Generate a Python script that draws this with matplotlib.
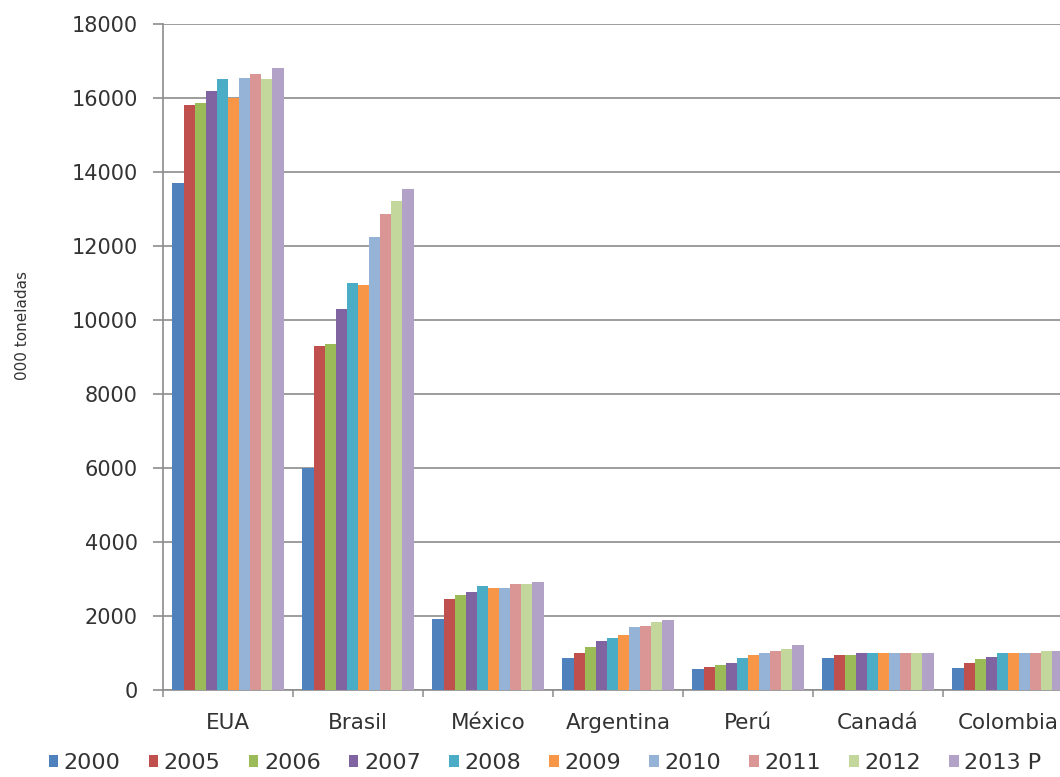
import matplotlib
matplotlib.use("Agg")
import matplotlib.pyplot as plt
import numpy as np

paises = ["EUA", "Brasil", "México", "Argentina", "Perú", "Canadá", "Colombia"]
anos = ["2000", "2005", "2006", "2007", "2008", "2009", "2010", "2011", "2012", "2013 P"]

# 000 toneladas, by year (rows) for each country (columns)
v2000 = [13700, 6000, 1900, 850, 550, 850, 570]
v2005 = [15800, 9300, 2450, 1000, 620, 930, 730]
v2006 = [15850, 9350, 2550, 1150, 660, 920, 830]
v2007 = [16200, 10300, 2650, 1300, 730, 980, 890]
v2008 = [16500, 11000, 2800, 1400, 840, 990, 980]
v2009 = [16000, 10950, 2750, 1470, 930, 990, 980]
v2010 = [16550, 12250, 2750, 1680, 980, 990, 980]
v2011 = [16650, 12850, 2840, 1730, 1050, 990, 980]
v2012 = [16500, 13200, 2850, 1830, 1100, 990, 1040]
v2013 = [16800, 13550, 2900, 1880, 1200, 990, 1040]
series = [v2000, v2005, v2006, v2007, v2008, v2009, v2010, v2011, v2012, v2013]

cores = ["#4F81BD", "#C0504D", "#9BBB59", "#8064A2", "#4BACC6",
         "#F79646", "#95B3D7", "#D99694", "#C3D69B", "#B3A2C7"]
texto = "#333333"

fig = plt.figure(figsize=(10.6, 7.77), dpi=100)
ax = fig.add_axes([163 / 1060, 1 - 689.5 / 777, (1073 - 163) / 1060, (689.5 - 24) / 777])

x = np.arange(len(paises))
grupo = 0.854
w = grupo / len(series)
for i, (vals, cor) in enumerate(zip(series, cores)):
    ax.bar(x - grupo / 2 + (i + 0.5) * w, vals, width=w, color=cor, label=anos[i], zorder=3)

ax.set_xlim(-0.5, len(paises) - 0.5)
ax.set_ylim(0, 18000)
ax.set_yticks(np.arange(0, 18001, 2000))
ax.yaxis.grid(True, color="#8c8c8c", linewidth=1.2, zorder=0)

ax.set_xticks(x)
ax.set_xticklabels(paises, fontsize=15.5, color=texto)
ax.set_xticks(np.arange(-0.5, len(paises), 1), minor=True)
ax.tick_params(axis="x", which="major", length=0, pad=17)
ax.tick_params(axis="x", which="minor", length=5, width=1.1, color="#8c8c8c", direction="out")
ax.tick_params(axis="y", length=7, width=1.2, color="#8c8c8c", pad=11, labelsize=15, labelcolor=texto)

for s in ["top", "right"]:
    ax.spines[s].set_visible(False)
ax.spines["left"].set_color("#8c8c8c")
ax.spines["bottom"].set_color("#8c8c8c")
ax.spines["left"].set_linewidth(1.2)
ax.spines["bottom"].set_linewidth(1.2)

fig.text(23 / 1060, 1 - 325 / 777, "000 toneladas", rotation=90, ha="center", va="center",
         fontsize=11, color=texto)

leg = fig.legend(loc="center", bbox_to_anchor=(545 / 1060, 1 - 763 / 777), ncol=10, frameon=False,
                 fontsize=16, handlelength=0.42, handleheight=0.42, handletextpad=0.25,
                 columnspacing=1.28, borderaxespad=0, borderpad=0)
for t in leg.get_texts():
    t.set_color(texto)

fig.savefig("out.png", dpi=100)
